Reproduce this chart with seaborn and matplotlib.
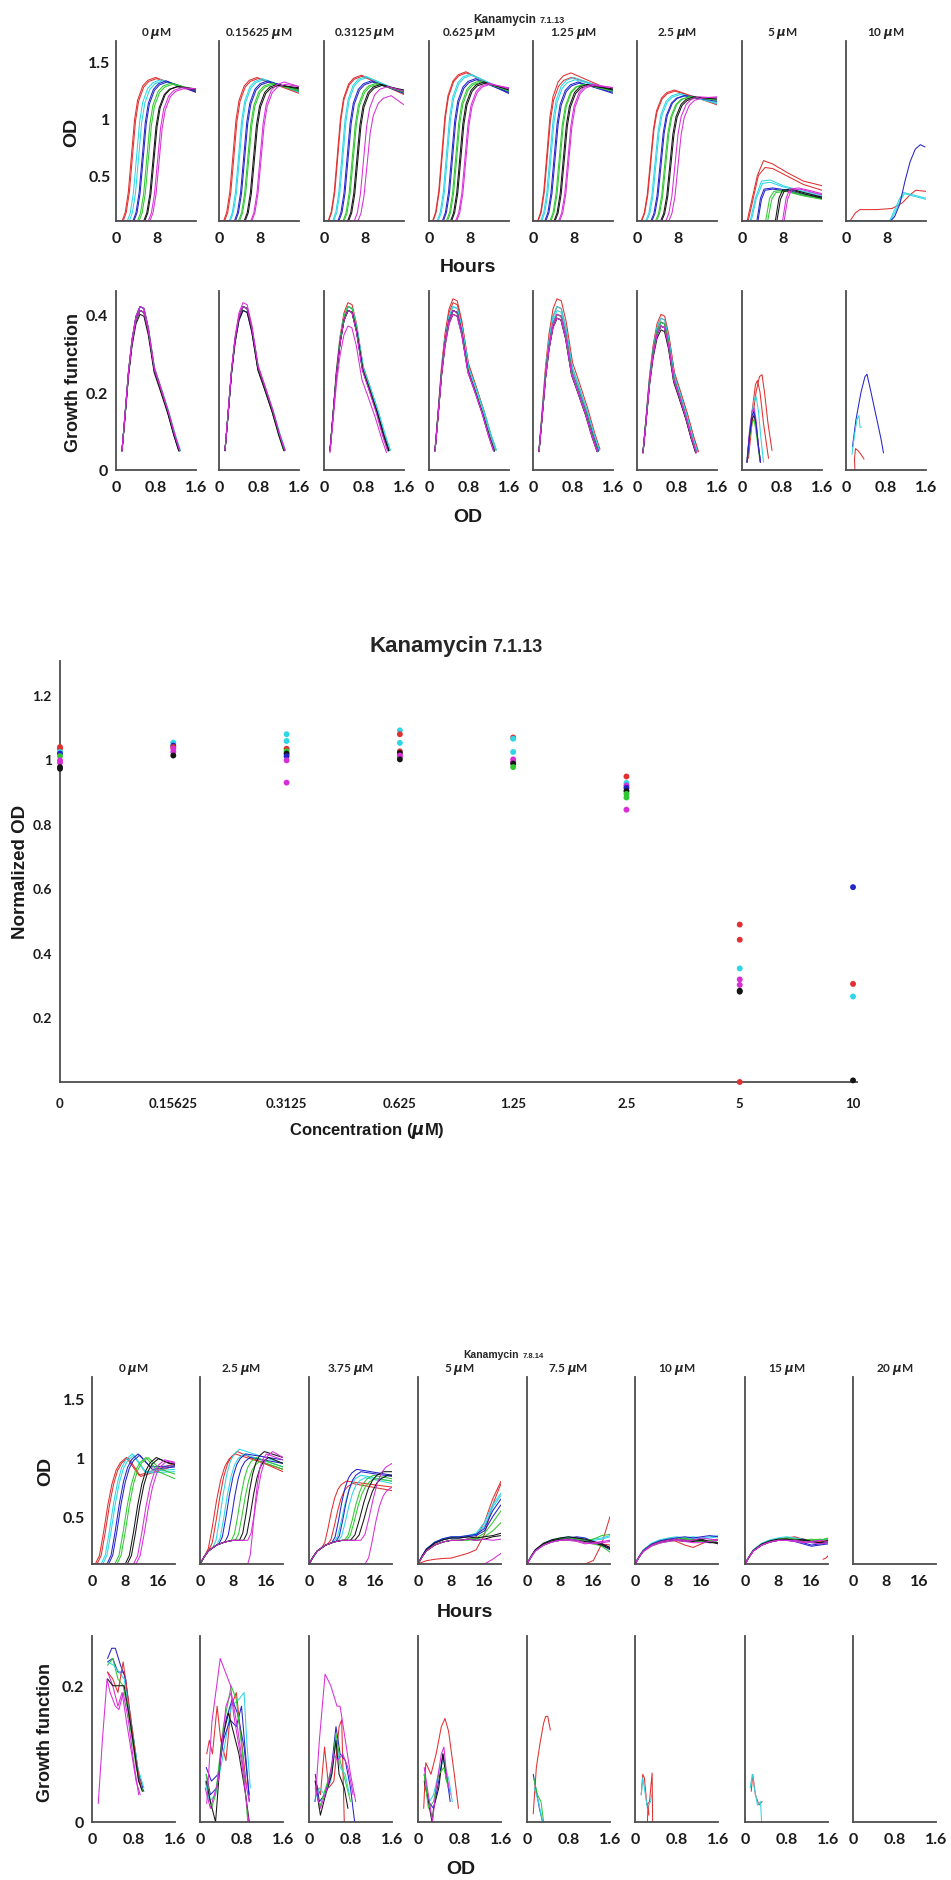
import numpy as np
import pandas as pd
import seaborn as sns
import matplotlib.pyplot as plt

W, H = 951, 1881

colors = {'r': '#e03030', 'c': '#2ed6e6', 'b': '#2424c8', 'g': '#30c830',
          'k': '#151515', 'm': '#d82ed8'}

# ---------------- Kanamycin 7.1.13 : growth curves ----------------
conc_a = ['0', '0.15625', '0.3125', '0.625', '1.25', '2.5', '5', '10']
rep_colors = ['r', 'r', 'c', 'c', 'b', 'b', 'g', 'g', 'k', 'k', 'm', 'm']

# shape of the rise (hours after lag, fraction)
rise_t = [0, 0.6, 1.2, 1.8, 2.4, 3.0, 4.0, 5.0, 6.5]
rise_f = [0, 0.06, 0.2, 0.45, 0.7, 0.84, 0.94, 0.98, 1.0]

lag_a = [
    [1.2, 1.4, 2.2, 2.6, 3.3, 3.5, 4.2, 4.5, 5.4, 5.6, 6.3, 6.6],
    [0.9, 1.1, 2.0, 2.2, 3.0, 3.2, 3.8, 4.0, 4.9, 5.1, 6.2, 6.4],
    [0.8, 0.9, 1.7, 1.9, 2.7, 2.9, 3.7, 3.9, 4.6, 4.8, 5.9, 6.6],
    [0.7, 0.8, 1.6, 1.8, 2.6, 2.8, 3.4, 3.6, 4.2, 4.4, 5.2, 5.4],
    [0.9, 1.0, 1.5, 1.7, 2.3, 2.5, 3.3, 3.5, 4.1, 4.3, 5.0, 5.2],
    [0.8, 0.9, 1.7, 1.9, 2.7, 2.9, 3.6, 3.8, 4.6, 4.8, 5.6, 6.2],
]
peak_a = [
    [1.36, 1.35, 1.34, 1.33, 1.33, 1.32, 1.31, 1.30, 1.28, 1.28, 1.27, 1.26],
    [1.36, 1.35, 1.35, 1.34, 1.33, 1.32, 1.31, 1.30, 1.30, 1.29, 1.32, 1.30],
    [1.38, 1.37, 1.37, 1.36, 1.33, 1.32, 1.31, 1.30, 1.30, 1.29, 1.28, 1.20],
    [1.41, 1.40, 1.39, 1.38, 1.35, 1.34, 1.33, 1.32, 1.32, 1.31, 1.31, 1.30],
    [1.40, 1.36, 1.36, 1.34, 1.32, 1.31, 1.30, 1.30, 1.30, 1.29, 1.30, 1.29],
    [1.25, 1.24, 1.22, 1.21, 1.20, 1.20, 1.19, 1.19, 1.19, 1.18, 1.19, 1.18],
]
end_a = [
    [1.23, 1.24, 1.24, 1.24, 1.23, 1.24, 1.25, 1.25, 1.25, 1.26, 1.26, 1.26],
    [1.22, 1.23, 1.23, 1.24, 1.24, 1.25, 1.24, 1.25, 1.26, 1.27, 1.28, 1.28],
    [1.21, 1.22, 1.22, 1.23, 1.22, 1.23, 1.23, 1.24, 1.24, 1.25, 1.24, 1.12],
    [1.22, 1.23, 1.23, 1.24, 1.22, 1.23, 1.24, 1.25, 1.25, 1.26, 1.26, 1.27],
    [1.24, 1.25, 1.24, 1.25, 1.22, 1.23, 1.24, 1.25, 1.25, 1.26, 1.27, 1.27],
    [1.12, 1.13, 1.13, 1.14, 1.15, 1.16, 1.16, 1.17, 1.17, 1.18, 1.18, 1.19],
]

od_5uM = [
    ('r', [0, 1.0, 2.0, 3.0, 4.2, 6.0, 9.0, 12.0, 15.6], [0.1, 0.1, 0.3, 0.5, 0.63, 0.6, 0.52, 0.45, 0.41]),
    ('r', [0, 1.2, 2.2, 3.2, 4.5, 6.0, 9.0, 12.0, 15.6], [0.1, 0.1, 0.3, 0.5, 0.57, 0.56, 0.49, 0.42, 0.37]),
    ('c', [0, 1.6, 2.6, 3.8, 5.5, 8.0, 12.0, 15.6], [0.1, 0.1, 0.3, 0.45, 0.46, 0.41, 0.36, 0.33]),
    ('c', [0, 1.8, 2.8, 4.0, 5.5, 8.0, 12.0, 15.6], [0.1, 0.1, 0.3, 0.43, 0.44, 0.40, 0.35, 0.32]),
    ('b', [0, 2.9, 3.6, 4.3, 6.0, 9.0, 12.0, 15.6], [0.1, 0.1, 0.3, 0.38, 0.39, 0.37, 0.33, 0.31]),
    ('b', [0, 3.1, 3.8, 4.5, 6.0, 9.0, 12.0, 15.6], [0.1, 0.1, 0.29, 0.37, 0.38, 0.36, 0.33, 0.30]),
    ('g', [0, 4.6, 5.4, 6.2, 8.0, 12.0, 15.6], [0.1, 0.1, 0.3, 0.36, 0.37, 0.33, 0.30]),
    ('g', [0, 5.0, 5.8, 6.6, 8.5, 12.0, 15.6], [0.1, 0.1, 0.29, 0.35, 0.36, 0.32, 0.29]),
    ('k', [0, 6.5, 7.2, 7.9, 9.5, 12.0, 15.6], [0.1, 0.1, 0.3, 0.37, 0.38, 0.35, 0.31]),
    ('k', [0, 6.8, 7.5, 8.2, 9.8, 12.0, 15.6], [0.1, 0.1, 0.29, 0.36, 0.37, 0.34, 0.30]),
    ('m', [0, 7.9, 8.6, 9.3, 11.0, 13.0, 15.6], [0.1, 0.1, 0.3, 0.38, 0.39, 0.37, 0.34]),
    ('m', [0, 8.2, 8.9, 9.6, 11.3, 13.0, 15.6], [0.1, 0.1, 0.29, 0.37, 0.38, 0.36, 0.33]),
]
od_10uM = [
    ('r', [0, 0.8, 1.8, 2.7, 6.0, 9.0, 11.0, 12.5, 13.6, 15.6], [0.1, 0.1, 0.17, 0.2, 0.2, 0.21, 0.26, 0.33, 0.37, 0.36]),
    ('c', [0, 8.5, 9.5, 10.5, 11.2, 13.0, 15.6], [0.1, 0.1, 0.2, 0.3, 0.35, 0.33, 0.30]),
    ('c', [0, 8.7, 9.7, 10.7, 11.4, 13.0, 15.6], [0.1, 0.1, 0.19, 0.29, 0.34, 0.32, 0.29]),
    ('b', [0, 8.7, 9.5, 10.5, 11.5, 12.5, 13.5, 14.5, 15.4], [0.1, 0.1, 0.14, 0.25, 0.45, 0.62, 0.73, 0.77, 0.75]),
]

# growth function vs OD, shape
gf_od = [0.12, 0.18, 0.25, 0.32, 0.40, 0.48, 0.56, 0.65, 0.77, 0.90, 1.05, 1.18, 1.28]
gf_val = [0.05, 0.14, 0.25, 0.33, 0.39, 0.415, 0.41, 0.36, 0.26, 0.21, 0.15, 0.09, 0.05]
gf_peak_a = [
    [0.42, 0.42, 0.42, 0.41, 0.42, 0.41, 0.41, 0.41, 0.40, 0.41, 0.42, 0.41],
    [0.42, 0.42, 0.42, 0.42, 0.42, 0.41, 0.42, 0.42, 0.41, 0.42, 0.43, 0.42],
    [0.43, 0.42, 0.42, 0.42, 0.41, 0.41, 0.42, 0.41, 0.41, 0.41, 0.41, 0.37],
    [0.44, 0.43, 0.42, 0.42, 0.41, 0.41, 0.41, 0.41, 0.41, 0.40, 0.41, 0.40],
    [0.44, 0.42, 0.42, 0.41, 0.40, 0.40, 0.40, 0.40, 0.39, 0.39, 0.40, 0.39],
    [0.40, 0.39, 0.39, 0.38, 0.38, 0.37, 0.38, 0.37, 0.37, 0.36, 0.37, 0.37],
]
gf_end_a = [
    [1.26, 1.27, 1.28, 1.29, 1.25, 1.26, 1.27, 1.28, 1.26, 1.27, 1.27, 1.28],
    [1.30, 1.31, 1.32, 1.33, 1.30, 1.31, 1.29, 1.30, 1.30, 1.31, 1.31, 1.32],
    [1.30, 1.31, 1.32, 1.33, 1.28, 1.29, 1.28, 1.29, 1.29, 1.30, 1.27, 1.25],
    [1.32, 1.34, 1.33, 1.35, 1.29, 1.30, 1.30, 1.31, 1.30, 1.31, 1.29, 1.30],
    [1.34, 1.32, 1.33, 1.32, 1.30, 1.31, 1.29, 1.30, 1.28, 1.29, 1.28, 1.29],
    [1.22, 1.23, 1.21, 1.20, 1.18, 1.19, 1.18, 1.19, 1.17, 1.18, 1.18, 1.19],
]
gf_5uM = [
    ('r', [0.13, 0.2, 0.28, 0.35, 0.4, 0.45, 0.52, 0.6], [0.03, 0.12, 0.2, 0.24, 0.245, 0.2, 0.12, 0.05]),
    ('r', [0.12, 0.2, 0.27, 0.31, 0.36, 0.43, 0.53], [0.04, 0.15, 0.22, 0.23, 0.2, 0.12, 0.03]),
    ('c', [0.1, 0.17, 0.24, 0.28, 0.33, 0.38, 0.43], [0.03, 0.12, 0.18, 0.19, 0.15, 0.08, 0.02]),
    ('g', [0.1, 0.15, 0.2, 0.24, 0.28, 0.33, 0.36], [0.02, 0.08, 0.12, 0.13, 0.1, 0.05, 0.02]),
    ('k', [0.1, 0.15, 0.2, 0.24, 0.28, 0.33, 0.37], [0.02, 0.09, 0.13, 0.14, 0.12, 0.06, 0.02]),
    ('m', [0.1, 0.15, 0.2, 0.24, 0.28, 0.33, 0.37], [0.02, 0.1, 0.15, 0.16, 0.13, 0.06, 0.02]),
    ('b', [0.1, 0.15, 0.2, 0.24, 0.28, 0.33, 0.37], [0.02, 0.09, 0.14, 0.15, 0.12, 0.06, 0.02]),
]
gf_10uM = [
    ('b', [0.13, 0.2, 0.3, 0.38, 0.42, 0.5, 0.6, 0.7, 0.75], [0.06, 0.13, 0.2, 0.24, 0.246, 0.2, 0.14, 0.08, 0.044]),
    ('c', [0.12, 0.17, 0.22, 0.26, 0.28, 0.31], [0.04, 0.09, 0.13, 0.14, 0.11, 0.11]),
    ('r', [0.18, 0.17, 0.19, 0.24, 0.3, 0.36], [-0.01, 0.03, 0.055, 0.05, 0.04, 0.028]),
]

# ---------------- Kanamycin 7.1.13 : normalized OD ----------------
norm_conc = ['0', '0.15625', '0.3125', '0.625', '1.25', '2.5', '5', '10']
norm_vals = [
    [1.038, 1.033, 1.023, 1.018, 1.010, 0.997, 0.990, 0.976, 0.971],
    [1.052, 1.043, 1.038, 1.033, 1.023, 1.012],
    [1.078, 1.057, 1.033, 1.025, 1.018, 1.010, 0.997, 0.928],
    [1.090, 1.078, 1.051, 1.025, 1.020, 1.012, 1.007, 1.000],
    [1.068, 1.064, 1.023, 1.000, 0.992, 0.987, 0.976],
    [0.947, 0.927, 0.919, 0.912, 0.902, 0.893, 0.882, 0.844],
    [0.488, 0.441, 0.352, 0.318, 0.301, 0.283, 0.280, 0.0],
    [0.604, 0.304, 0.265, 0.005],
]
norm_cols = [
    ['r', 'r', 'c', 'b', 'g', 'm', 'm', 'k', 'k'],
    ['c', 'b', 'r', 'm', 'm', 'k'],
    ['c', 'c', 'r', 'g', 'k', 'b', 'm', 'm'],
    ['c', 'r', 'c', 'r', 'k', 'm', 'm', 'k'],
    ['r', 'c', 'c', 'm', 'm', 'k', 'g'],
    ['r', 'c', 'm', 'b', 'k', 'g', 'g', 'm'],
    ['r', 'r', 'c', 'm', 'm', 'k', 'k', 'r'],
    ['b', 'r', 'c', 'k'],
]

# ---------------- Kanamycin 7.8.14 ----------------
conc_b = ['0', '2.5', '3.75', '5', '7.5', '10', '15', '20']

b_rise_t = [0, 1, 2, 3, 4, 5, 6, 7.5]
b_rise_f = [0, 0.08, 0.3, 0.55, 0.75, 0.88, 0.95, 1.0]
ph1_t = [0, 1, 2, 4, 6, 8]
ph1_f = [0, 0.3, 0.55, 0.8, 0.93, 1.0]
late_t = [10, 12, 14, 16, 18, 20]

# 0 uM: lag, peak, dip, end
b0_params = [(0.8, 1.0, 0.85, 0.95), (1.2, 1.0, 0.84, 0.93), (2.2, 1.03, 0.88, 0.9),
             (2.6, 1.02, 0.87, 0.88), (3.6, 1.03, 0.92, 0.93), (4.0, 1.02, 0.9, 0.92),
             (5.5, 1.0, 0.88, 0.82), (6.0, 1.0, 0.9, 0.86), (8.0, 1.0, 0.95, 0.95),
             (8.5, 0.99, 0.95, 0.94), (10.0, 0.98, 0.96, 0.96), (10.6, 0.97, 0.95, 0.95)]
# 2.5 and 3.75 uM: first plateau, second lag, peak, rise duration, end
b1_params = [(0.3, 1.0, 1.03, 7.5, 0.9), (0.3, 2.0, 1.05, 7.0, 0.88), (0.3, 3.0, 1.07, 6.5, 0.95),
             (0.3, 4.0, 1.03, 6.5, 0.92), (0.3, 4.5, 1.03, 6.5, 0.98), (0.3, 6.0, 1.0, 6.0, 0.95),
             (0.3, 7.5, 1.0, 6.0, 0.92), (0.3, 8.5, 0.97, 6.0, 0.9), (0.3, 9.5, 1.05, 6.0, 1.0),
             (0.3, 10.5, 1.0, 6.0, 0.95), (0.3, 11.5, 1.05, 6.0, 1.0), (0.1, 11.5, 1.03, 4.5, 0.98)]
b2_params = [(0.3, 3.0, 0.8, 6.0, 0.75), (0.3, 4.5, 0.78, 6.0, 0.72), (0.3, 6.0, 0.85, 6.5, 0.8),
             (0.3, 7.0, 0.83, 6.5, 0.78), (0.3, 5.5, 0.9, 6.0, 0.85), (0.3, 6.5, 0.88, 6.0, 0.84),
             (0.3, 8.5, 0.85, 7.0, 0.82), (0.3, 9.0, 0.82, 7.0, 0.8), (0.3, 10.0, 0.88, 8.0, 0.88),
             (0.3, 11.0, 0.85, 8.0, 0.85), (0.3, 12.5, 0.95, 7.5, 0.95), (0.1, 13.5, 0.75, 6.5, 0.75)]
# 5 - 15 uM: first plateau, then OD read at 10, 12, 14, 16, 18, 20 h
b3_params = [(0.3, [0.3, 0.31, 0.33, 0.45, 0.65, 0.8]), (0.15, [0.17, 0.19, 0.22, 0.35, 0.6, 0.78]),
             (0.33, [0.33, 0.34, 0.36, 0.45, 0.6, 0.7]), (0.32, [0.32, 0.33, 0.35, 0.42, 0.58, 0.68]),
             (0.33, [0.33, 0.34, 0.35, 0.4, 0.55, 0.65]), (0.32, [0.32, 0.33, 0.34, 0.38, 0.5, 0.6]),
             (0.3, [0.3, 0.31, 0.32, 0.36, 0.45, 0.55]), (0.3, [0.3, 0.3, 0.31, 0.33, 0.38, 0.45]),
             (0.32, [0.32, 0.33, 0.32, 0.33, 0.34, 0.36]), (0.3, [0.3, 0.31, 0.3, 0.31, 0.33, 0.34]),
             (0.3, [0.3, 0.31, 0.3, 0.31, 0.3, 0.31]), (0.1, [0.1, 0.1, 0.1, 0.1, 0.14, 0.19])]
b4_params = [(0.1, [0.1, 0.1, 0.1, 0.13, 0.27, 0.5]), (0.31, [0.32, 0.31, 0.3, 0.28, 0.27, 0.26]),
             (0.32, [0.33, 0.32, 0.31, 0.3, 0.31, 0.33]), (0.31, [0.32, 0.3, 0.29, 0.31, 0.32, 0.34]),
             (0.31, [0.32, 0.33, 0.32, 0.29, 0.27, 0.24]), (0.3, [0.31, 0.32, 0.3, 0.28, 0.26, 0.22]),
             (0.31, [0.32, 0.31, 0.3, 0.31, 0.34, 0.35]), (0.3, [0.3, 0.3, 0.28, 0.27, 0.25, 0.2]),
             (0.32, [0.33, 0.32, 0.31, 0.29, 0.27, 0.24]), (0.31, [0.31, 0.3, 0.29, 0.28, 0.26, 0.23]),
             (0.3, [0.31, 0.3, 0.28, 0.27, 0.28, 0.29]), (0.3, [0.3, 0.29, 0.27, 0.28, 0.29, 0.3])]
b5_params = [(0.31, [0.29, 0.26, 0.24, 0.27, 0.3, 0.31]), (0.3, [0.31, 0.32, 0.31, 0.3, 0.29, 0.3]),
             (0.32, [0.33, 0.32, 0.33, 0.32, 0.33, 0.34]), (0.31, [0.32, 0.31, 0.32, 0.31, 0.32, 0.33]),
             (0.31, [0.32, 0.33, 0.32, 0.33, 0.34, 0.33]), (0.3, [0.3, 0.31, 0.3, 0.29, 0.28, 0.3]),
             (0.3, [0.31, 0.32, 0.3, 0.29, 0.3, 0.28]), (0.29, [0.3, 0.31, 0.3, 0.3, 0.29, 0.3]),
             (0.3, [0.3, 0.29, 0.3, 0.31, 0.29, 0.27]), (0.3, [0.31, 0.3, 0.29, 0.3, 0.28, 0.28]),
             (0.29, [0.3, 0.29, 0.28, 0.28, 0.29, 0.3]), (0.3, [0.31, 0.3, 0.3, 0.32, 0.31, 0.3])]
b6_params = [(0.31, [0.32, 0.33, 0.31, 0.3, 0.29, 0.3]), (0.3, [0.31, 0.32, 0.3, 0.29, 0.3, 0.31]),
             (0.31, [0.32, 0.31, 0.3, 0.28, 0.27, 0.29]), (0.32, [0.33, 0.32, 0.31, 0.29, 0.3, 0.31]),
             (0.3, [0.31, 0.3, 0.28, 0.26, 0.27, 0.28]), (0.3, [0.3, 0.29, 0.27, 0.25, 0.26, 0.27]),
             (0.31, [0.32, 0.31, 0.3, 0.31, 0.3, 0.32]), (0.3, [0.31, 0.3, 0.29, 0.3, 0.31, 0.3]),
             (0.31, [0.31, 0.3, 0.31, 0.29, 0.28, 0.3]), (0.3, [0.31, 0.3, 0.3, 0.29, 0.28, 0.29]),
             (0.3, [0.3, 0.3, 0.29, 0.28, 0.27, 0.28]), (0.3, [0.3, 0.29, 0.28, 0.29, 0.3, 0.29])]

gfb = [
    [('m', [0.12, 0.2, 0.29, 0.35, 0.45, 0.52, 0.6, 0.7, 0.8, 0.9], [0.027, 0.12, 0.21, 0.19, 0.17, 0.165, 0.19, 0.15, 0.09, 0.04]),
     ('m', [0.3, 0.4, 0.5, 0.58, 0.68, 0.85, 0.93], [0.22, 0.2, 0.17, 0.19, 0.14, 0.06, 0.04]),
     ('b', [0.3, 0.38, 0.45, 0.55, 0.65, 0.75, 0.9, 1.0], [0.24, 0.255, 0.255, 0.23, 0.21, 0.14, 0.06, 0.045]),
     ('b', [0.3, 0.4, 0.5, 0.62, 0.75, 0.9, 0.98], [0.235, 0.24, 0.22, 0.22, 0.15, 0.07, 0.05]),
     ('g', [0.3, 0.4, 0.5, 0.6, 0.7, 0.85, 0.98], [0.23, 0.24, 0.21, 0.2, 0.16, 0.08, 0.045]),
     ('c', [0.3, 0.42, 0.52, 0.62, 0.75, 0.88, 1.0], [0.235, 0.23, 0.22, 0.21, 0.15, 0.08, 0.05]),
     ('r', [0.3, 0.4, 0.5, 0.6, 0.7, 0.85, 0.95], [0.22, 0.21, 0.19, 0.235, 0.18, 0.09, 0.05]),
     ('k', [0.3, 0.4, 0.5, 0.62, 0.75, 0.9, 0.97], [0.21, 0.2, 0.2, 0.2, 0.14, 0.06, 0.045])],
    [('r', [0.13, 0.18, 0.24, 0.33, 0.4, 0.5, 0.6, 0.7, 0.8, 0.9], [0.1, 0.12, 0.1, 0.17, 0.12, 0.09, 0.17, 0.19, 0.12, 0.05]),
     ('c', [0.1, 0.18, 0.3, 0.45, 0.6, 0.75, 0.85, 0.9, 0.97], [0.06, 0.03, 0.04, 0.1, 0.17, 0.18, 0.19, 0.12, 0.05]),
     ('b', [0.12, 0.2, 0.32, 0.45, 0.58, 0.7, 0.8, 0.9, 0.95], [0.07, 0.04, 0.05, 0.12, 0.15, 0.14, 0.17, 0.08, 0.03]),
     ('b', [0.12, 0.22, 0.35, 0.5, 0.62, 0.72, 0.85, 0.95], [0.08, 0.06, 0.07, 0.15, 0.18, 0.16, 0.11, 0.04]),
     ('g', [0.12, 0.22, 0.3, 0.45, 0.6, 0.7, 0.82, 0.92], [0.07, 0.02, 0.04, 0.14, 0.2, 0.18, 0.1, 0.0]),
     ('k', [0.12, 0.2, 0.3, 0.42, 0.55, 0.65, 0.75, 0.88, 0.95], [0.06, 0.03, 0.0, 0.12, 0.16, 0.13, 0.1, 0.04, 0.0]),
     ('m', [0.1, 0.2, 0.35, 0.5, 0.6, 0.72, 0.85, 0.95], [0.05, 0.02, 0.06, 0.17, 0.19, 0.14, 0.07, 0.03]),
     ('m', [0.13, 0.23, 0.39, 0.59, 0.65, 0.81, 0.94], [0.027, 0.147, 0.24, 0.2, 0.157, 0.084, 0.0])],
    [('r', [0.12, 0.22, 0.3, 0.38, 0.48, 0.58, 0.63, 0.66, 0.68], [0.06, 0.04, 0.11, 0.05, 0.06, 0.14, 0.15, 0.06, 0.0]),
     ('b', [0.12, 0.2, 0.3, 0.42, 0.52, 0.6, 0.7, 0.8, 0.88], [0.07, 0.03, 0.04, 0.07, 0.14, 0.1, 0.09, 0.05, 0.0]),
     ('g', [0.12, 0.2, 0.32, 0.45, 0.52, 0.6, 0.7, 0.8], [0.06, 0.02, 0.05, 0.08, 0.13, 0.09, 0.06, 0.03]),
     ('c', [0.1, 0.2, 0.3, 0.42, 0.52, 0.6, 0.7, 0.78], [0.03, 0.05, 0.04, 0.06, 0.12, 0.08, 0.07, 0.04]),
     ('k', [0.12, 0.22, 0.32, 0.44, 0.52, 0.58, 0.68, 0.75], [0.06, 0.01, 0.04, 0.07, 0.12, 0.07, 0.05, 0.02]),
     ('m', [0.12, 0.22, 0.35, 0.48, 0.55, 0.65, 0.75, 0.85], [0.05, 0.02, 0.05, 0.1, 0.09, 0.1, 0.08, 0.04]),
     ('m', [0.12, 0.2, 0.31, 0.42, 0.54, 0.6, 0.7, 0.8, 0.9], [0.03, 0.12, 0.217, 0.2, 0.17, 0.17, 0.12, 0.07, 0.03])],
    [('r', [0.11, 0.15, 0.25, 0.35, 0.45, 0.52, 0.59, 0.7, 0.78], [0.02, 0.087, 0.07, 0.1, 0.14, 0.152, 0.133, 0.07, 0.02]),
     ('b', [0.12, 0.2, 0.3, 0.4, 0.48, 0.55, 0.62], [0.07, 0.03, 0.02, 0.06, 0.1, 0.07, 0.03]),
     ('c', [0.13, 0.22, 0.3, 0.42, 0.5, 0.6, 0.66], [0.06, 0.03, 0.04, 0.08, 0.09, 0.06, 0.03]),
     ('k', [0.12, 0.2, 0.27, 0.3, 0.4, 0.48, 0.55], [0.06, 0.03, 0.0, 0.02, 0.05, 0.1, 0.06]),
     ('g', [0.12, 0.2, 0.3, 0.4, 0.5, 0.58], [0.07, 0.02, 0.03, 0.07, 0.08, 0.05]),
     ('m', [0.12, 0.2, 0.28, 0.35, 0.45, 0.5, 0.55, 0.62], [0.08, 0.04, 0.0, 0.05, 0.1, 0.11, 0.07, 0.04])],
    [('r', [0.12, 0.18, 0.25, 0.32, 0.36, 0.4, 0.45], [0.012, 0.08, 0.115, 0.145, 0.155, 0.155, 0.135]),
     ('b', [0.12, 0.18, 0.24, 0.3], [0.07, 0.045, 0.02, 0.0]),
     ('g', [0.13, 0.2, 0.27, 0.32], [0.065, 0.04, 0.03, 0.0]),
     ('c', [0.14, 0.22, 0.3], [0.05, 0.03, 0.0])],
    [('r', [0.12, 0.15, 0.18, 0.23, 0.28, 0.33, 0.34], [0.04, 0.07, 0.065, 0.025, 0.03, 0.072, 0.0]),
     ('c', [0.12, 0.15, 0.2, 0.24, 0.3, 0.32], [0.04, 0.065, 0.04, 0.02, 0.03, 0.04]),
     ('r', [0.24, 0.25, 0.27], [0.0, 0.025, 0.01])],
    [('r', [0.12, 0.15, 0.2, 0.27, 0.33], [0.045, 0.07, 0.04, 0.025, 0.03]),
     ('c', [0.1, 0.14, 0.18, 0.24, 0.3, 0.32], [0.05, 0.07, 0.05, 0.025, 0.03, 0.0])],
    [],
]


def sigmoid_curve(lag, peak, end, t_end):
    t = [0.0] + [lag + d for d in rise_t]
    y = [0.1] + [0.1 + f * (peak - 0.1) for f in rise_f]
    if t[-1] < t_end:
        t.append(t_end)
        y.append(end)
    return t, y


def gf_curve(peak, od_end):
    xs = [o if o <= 0.48 else 0.48 + (o - 0.48) * (od_end - 0.48) / 0.8 for o in gf_od]
    ys = [v * peak / 0.415 for v in gf_val]
    return xs, ys


def b0_curve(lag, peak, dip, end):
    t = [0.0] + [lag + d for d in b_rise_t]
    y = [0.1] + [0.1 + f * (peak - 0.1) for f in b_rise_f]
    if t[-1] + 3 < 20:
        t.append(t[-1] + 3)
        y.append(dip)
    if t[-1] < 20:
        t.append(20)
        y.append(end)
    return t, y


def biphasic(p1, lag2, p2, dur, end):
    first = [0.1 + f * (p1 - 0.1) for f in ph1_f]
    t = [x for x in ph1_t if x < lag2]
    y = first[:len(t)]
    y0 = float(np.interp(lag2, ph1_t, first))
    for d, f in zip(b_rise_t, b_rise_f):
        t.append(lag2 + d * dur / 7.5)
        y.append(y0 + f * (p2 - y0))
    if t[-1] < 20:
        t.append(20)
        y.append(end)
    return t, y


def late_curve(p1, late):
    return ph1_t + late_t, [0.1 + f * (p1 - 0.1) for f in ph1_f] + late


def draw_lines(ax, curves):
    if not curves:
        return
    rows = []
    pal = {}
    for i, (c, xs, ys) in enumerate(curves):
        pal[i] = colors[c]
        for x, y in zip(xs, ys):
            rows.append((i, x, y))
    df = pd.DataFrame(rows, columns=['curve', 'x', 'y'])
    sns.lineplot(data=df, x='x', y='y', hue='curve', palette=pal, estimator=None,
                 sort=False, legend=False, ax=ax, linewidth=0.75)


def style_axes(ax, xlim, xt, xtl, ylim, yt=None, ytl=None, ypad=4):
    ax.set_xlim(*xlim)
    ax.set_ylim(*ylim)
    ax.set_xticks(xt)
    ax.set_xticklabels(xtl)
    if yt is None:
        ax.set_yticks([])
    else:
        ax.set_yticks(yt)
        ax.set_yticklabels(ytl)
    ax.set_xlabel('')
    ax.set_ylabel('')
    sns.despine(ax=ax)
    for s in ('left', 'bottom'):
        ax.spines[s].set_color('#4d4d4d')
        ax.spines[s].set_linewidth(1.3)
    ax.tick_params(axis='both', direction='in', length=3, width=0.9, color='#4d4d4d',
                   labelsize=11.5, labelcolor='#1a1a1a')
    ax.tick_params(axis='x', pad=7)
    ax.tick_params(axis='y', pad=ypad)
    ax.set_facecolor('none')
    ax.grid(False)


sns.set_theme(style='white')
plt.rcParams['font.family'] = ['Lato', 'DejaVu Sans']
plt.rcParams['font.weight'] = 'bold'

fig = plt.figure(figsize=(W / 100, H / 100), dpi=100)


def add_ax(x0, y0, w, h):
    return fig.add_axes([x0 / W, 1 - (y0 + h) / H, w / W, h / H])


def label(x, y, s, size, rot=0, ha='center'):
    fig.text(x / W, 1 - y / H, s, fontsize=size, rotation=rot, ha=ha, va='center',
             fontweight='bold', family=['Liberation Sans', 'DejaVu Sans'], color='#1a1a1a')


def split_title(x_split, y, big, small, s_big, s_small):
    fig.text((x_split - 2) / W, 1 - y / H, big, fontsize=s_big, fontweight='bold', ha='right',
             va='baseline', family=['Liberation Sans'])
    fig.text((x_split + 2) / W, 1 - y / H, small, fontsize=s_small, fontweight='bold', ha='left',
             va='baseline', family=['Liberation Sans'])


# ---------- block 1 ----------
top_lefts = [116, 219, 324, 429, 533, 637, 742, 846]
for i, x0 in enumerate(top_lefts):
    ax = add_ax(x0, 42, 80, 180)
    if i < 6:
        curves = [(rep_colors[j],) + sigmoid_curve(lag_a[i][j], peak_a[i][j], end_a[i][j], 15.6)
                  for j in range(12)]
    else:
        curves = od_5uM if i == 6 else od_10uM
    draw_lines(ax, curves)
    if i == 0:
        style_axes(ax, (0, 15.6), [0, 8], ['0', '8'], (0.1, 1.68), [0.5, 1, 1.5], ['0.5', '1', '1.5'])
    else:
        style_axes(ax, (0, 15.6), [0, 8], ['0', '8'], (0.1, 1.68))
    ax.set_title(conc_a[i] + r' $\mu$M', fontsize=8.5, fontweight='bold', pad=4)

    ax2 = add_ax(x0, 292, 80, 179)
    if i < 6:
        curves = [(rep_colors[j],) + gf_curve(gf_peak_a[i][j], gf_end_a[i][j]) for j in range(12)]
    else:
        curves = gf_5uM if i == 6 else gf_10uM
    draw_lines(ax2, curves)
    if i == 0:
        style_axes(ax2, (0, 1.6), [0, 0.8, 1.6], ['0', '0.8', '1.6'], (0, 0.46), [0, 0.2, 0.4], ['0', '0.2', '0.4'], ypad=6)
    else:
        style_axes(ax2, (0, 1.6), [0, 0.8, 1.6], ['0', '0.8', '1.6'], (0, 0.46))

split_title(538, 23, 'Kanamycin', '7.1.13', 8.5, 6.5)
label(72, 132, 'OD', 14, rot=90)
label(73, 382, 'Growth function', 13, rot=90)
label(468, 267, 'Hours', 14)
label(468, 518, 'OD', 14)

# ---------- block 2: normalized OD ----------
axs = add_ax(60, 662, 797, 421)
rows = []
for k, (vals, cols) in enumerate(zip(norm_vals, norm_cols)):
    for v, c in zip(vals, cols):
        rows.append((k, v, c))
sdf = pd.DataFrame(rows, columns=['conc', 'norm', 'col'])
sns.scatterplot(data=sdf, x='conc', y='norm', hue='col', palette=colors, s=18, linewidth=0,
                legend=False, ax=axs, clip_on=False, zorder=3)
axs.set_xlim(0, 7.035)
axs.set_ylim(0, 1.305)
axs.set_xticks(range(8))
axs.set_xticklabels(norm_conc)
axs.set_yticks([0.2, 0.4, 0.6, 0.8, 1.0, 1.2])
axs.set_yticklabels(['0.2', '0.4', '0.6', '0.8', '1', '1.2'])
axs.set_xlabel('')
axs.set_ylabel('')
sns.despine(ax=axs)
for s in ('left', 'bottom'):
    axs.spines[s].set_color('#4d4d4d')
    axs.spines[s].set_linewidth(1.3)
axs.tick_params(axis='both', direction='in', length=6, width=0.9, color='#4d4d4d', labelsize=10,
                labelcolor='#1a1a1a')
axs.tick_params(axis='x', pad=11, labelsize=9.5)
axs.tick_params(axis='y', pad=6)
axs.set_facecolor('none')
split_title(490, 652, 'Kanamycin', '7.1.13', 16, 13)
label(21, 872, 'Normalized OD', 13.5, rot=90)
label(367, 1131, r'Concentration ($\mu$M)', 12)

# ---------- block 3 ----------
bot_lefts = [92, 200, 309, 418, 527, 635, 745, 853]
for i, x0 in enumerate(bot_lefts):
    ax = add_ax(x0, 1378, 83, 187)
    if i == 0:
        curves = [(rep_colors[j],) + b0_curve(*b0_params[j]) for j in range(12)]
    elif i in (1, 2):
        prm = b1_params if i == 1 else b2_params
        curves = [(rep_colors[j],) + biphasic(*prm[j]) for j in range(12)]
    elif i < 7:
        prm = [b3_params, b4_params, b5_params, b6_params][i - 3]
        curves = [(rep_colors[j],) + late_curve(*prm[j]) for j in range(12)]
        if i == 6:
            curves.append(('r', [18.8, 19.5, 20], [0.14, 0.15, 0.17]))
    else:
        curves = []
    draw_lines(ax, curves)
    if i == 0:
        style_axes(ax, (0, 20), [0, 8, 16], ['0', '8', '16'], (0.1, 1.68), [0.5, 1, 1.5], ['0.5', '1', '1.5'], ypad=5)
    else:
        style_axes(ax, (0, 20), [0, 8, 16], ['0', '8', '16'], (0.1, 1.68))
    ax.set_title(conc_b[i] + r' $\mu$M', fontsize=8.5, fontweight='bold', pad=4)

    ax2 = add_ax(x0, 1637, 83, 186)
    draw_lines(ax2, gfb[i])
    if i == 0:
        style_axes(ax2, (0, 1.6), [0, 0.8, 1.6], ['0', '0.8', '1.6'], (0, 0.273), [0, 0.2], ['0', '0.2'], ypad=6)
    else:
        style_axes(ax2, (0, 1.6), [0, 0.8, 1.6], ['0', '0.8', '1.6'], (0, 0.273))

split_title(521, 1358, 'Kanamycin', '7.8.14', 7.5, 5.5)
label(46, 1471, 'OD', 14, rot=90)
label(46, 1733, 'Growth function', 13, rot=90)
label(465, 1613, 'Hours', 14)
label(461, 1870, 'OD', 14)

fig.savefig('out.png', dpi=100, facecolor='white')
